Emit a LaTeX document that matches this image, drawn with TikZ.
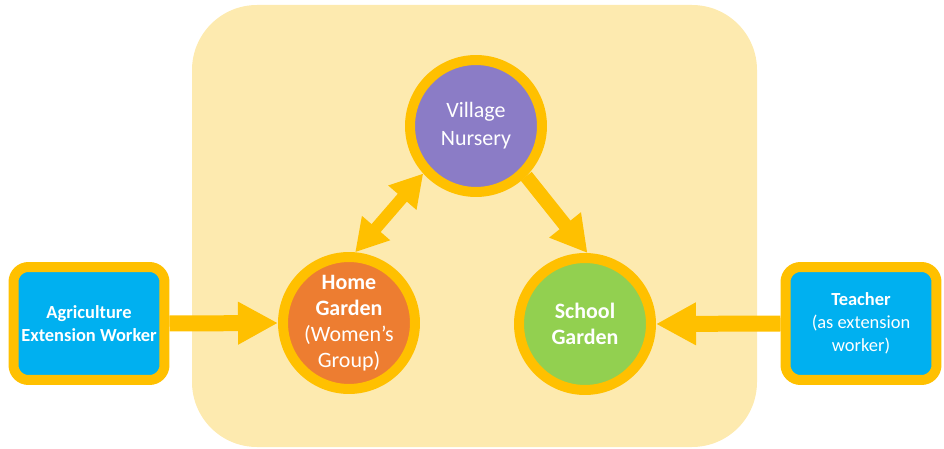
\documentclass[tikz,border=0pt]{standalone}
\usepackage{fontspec}
\setmainfont{Carlito}
\usetikzlibrary{arrows.meta}

\definecolor{gold}{HTML}{FFC000}
\definecolor{paleyellow}{HTML}{FDEAAF}
\definecolor{skyblue}{HTML}{00B0F0}
\definecolor{lavender}{HTML}{8B7CC6}
\definecolor{carrot}{HTML}{ED7D31}
\definecolor{leaf}{HTML}{92D050}

\begin{document}
\begin{tikzpicture}[x=0.02cm,y=-0.02cm,
    garden/.style={circle,draw=gold,line width=0.2cm,minimum size=2.64cm,inner sep=0pt,
        text=white,align=center,font=\fontsize{12.5}{14.8}\selectfont},
    worker/.style={rectangle,rounded corners=0.3cm,draw=gold,fill=skyblue,line width=0.2cm,
        minimum width=3.02cm,minimum height=2.26cm,inner sep=0pt,
        text=white,align=center,font=\fontsize{10.5}{13}\selectfont},
    bigarrow/.style={draw=gold,line width=0.32cm,-{Triangle[width=0.8cm,length=0.8cm]}}]
            \useasboundingbox (0,0) rectangle (944,449);
            \fill[paleyellow,rounded corners=1.3cm] (192,5) rectangle (757,447);

            \node[garden,fill=lavender,font=\fontsize{12.5}{16}\selectfont] (nursery) at (476,126) {Village\\Nursery};
            \node[garden,fill=carrot] (home) at (349,323) {\textbf{Home}\\\textbf{Garden}\\(Women’s\\Group)};
            \node[garden,fill=leaf] (school) at (585,324) {\textbf{School}\\\textbf{Garden}};

            \node[worker] (agri) at (89,323.5) {\textbf{Agriculture}\\\textbf{Extension Worker}};
            \node[worker] (teacher) at (861,323.5) {\textbf{Teacher}\\(as extension\\worker)};

            \draw[bigarrow] (agri.east) -- (home.west);
            \draw[bigarrow] (teacher.west) -- (school.east);
            \draw[draw=gold,line width=0.24cm,{Triangle[width=0.7cm,length=0.64cm]}-{Triangle[width=0.7cm,length=0.64cm]}] (home.85) -- (nursery.222);
            \draw[draw=gold,line width=0.28cm,-{Triangle[width=0.76cm,length=0.72cm]}] (nursery.-45) -- (school.88);
        \end{tikzpicture}
\end{document}
